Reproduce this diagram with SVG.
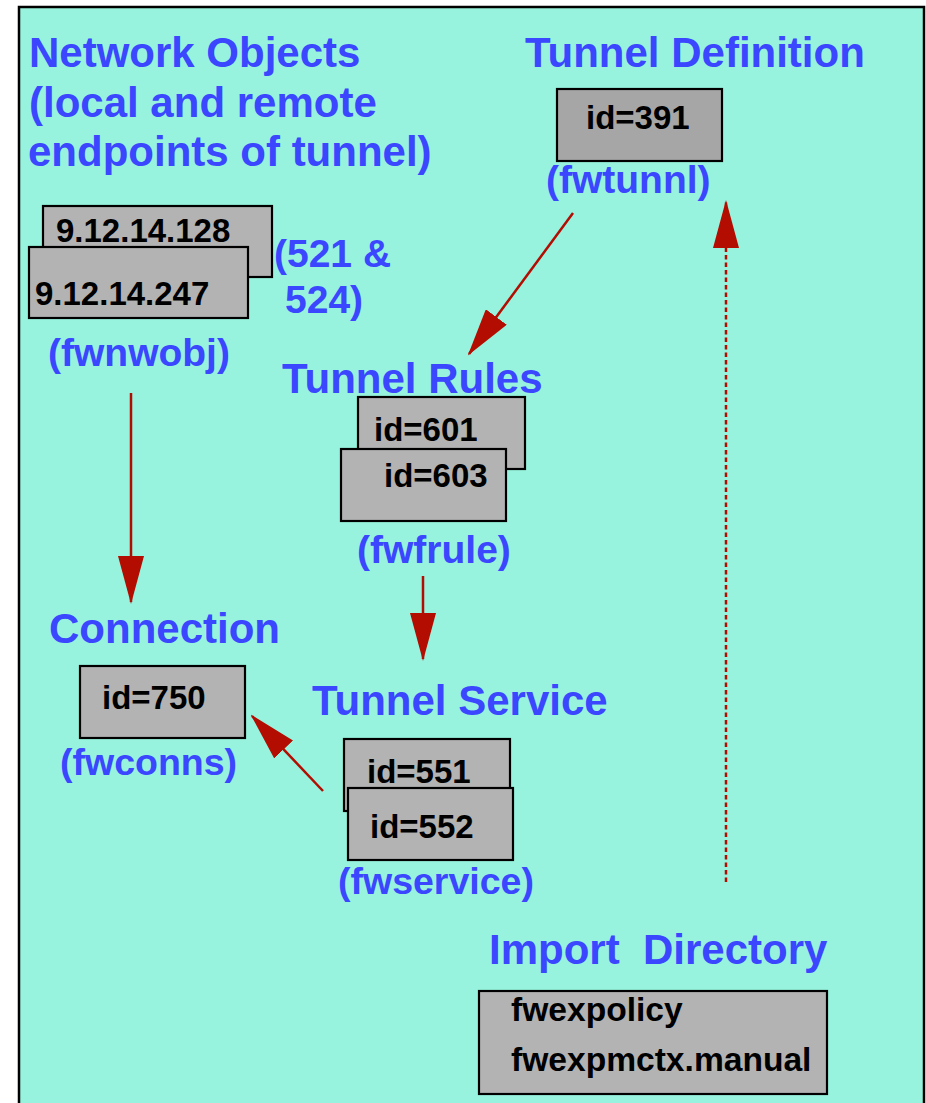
<svg xmlns="http://www.w3.org/2000/svg" width="926" height="1103" viewBox="0 0 926 1103">
  <style>
    .title { font-family: "Liberation Sans", Arial, sans-serif; font-weight: bold; font-size: 42px; fill: #3B46FF; }
    .sub { font-family: "Liberation Sans", Arial, sans-serif; font-weight: bold; font-size: 39px; fill: #3B46FF; }
    .sub.narrow { font-size: 37.5px; }
    .box { fill: #B3B3B3; stroke: #000; stroke-width: 2.2; }
    .box.dark { fill: #A6A6A6; }
    .val { font-family: "Liberation Sans", Arial, sans-serif; font-weight: bold; font-size: 33px; fill: #000; }
    .link { stroke: #B30C00; stroke-width: 2.5; fill: none; marker-end: url(#head); }
    .link.dotted { stroke-dasharray: 4.5 3; }
  </style>
  <defs>
    <marker id="head" markerUnits="userSpaceOnUse" viewBox="0 0 48 26" markerWidth="48" markerHeight="26" refX="46" refY="13" orient="auto">
      <path d="M0,0 L48,13 L0,26 z" fill="#B30C00"/>
    </marker>
  </defs>

  <rect x="0" y="0" width="926" height="1103" fill="#fff"/>
  <rect x="19" y="7" width="905" height="1110" fill="#97F3DD" stroke="#000" stroke-width="2.5"/>

  <g id="network-objects">
    <text class="title" x="29" y="67">Network Objects</text>
    <text class="title" x="29" y="117">(local and remote</text>
    <text class="title" x="28" y="166">endpoints of tunnel)</text>
    <rect class="box" x="43" y="206" width="229" height="71"/>
    <text class="val" x="56" y="242">9.12.14.128</text>
    <rect class="box" x="29" y="247" width="219" height="71"/>
    <text class="val" x="35" y="305">9.12.14.247</text>
    <text class="sub" x="274" y="267">(521 &amp;</text>
    <text class="sub" x="285" y="313">524)</text>
    <text class="sub" x="48" y="366">(fwnwobj)</text>
  </g>

  <g id="tunnel-definition">
    <text class="title" x="525" y="67">Tunnel Definition</text>
    <rect class="box dark" x="557" y="89" width="165" height="72"/>
    <text class="val" x="586" y="129">id=391</text>
    <text class="sub" x="546" y="193">(fwtunnl)</text>
  </g>

  <g id="tunnel-rules">
    <text class="title" x="282" y="393">Tunnel Rules</text>
    <rect class="box" x="358" y="397" width="167" height="72"/>
    <text class="val" x="374" y="441">id=601</text>
    <rect class="box" x="341" y="449" width="165" height="72"/>
    <text class="val" x="384" y="487">id=603</text>
    <text class="sub" x="357" y="563">(fwfrule)</text>
  </g>

  <g id="connection">
    <text class="title" x="49" y="643">Connection</text>
    <rect class="box" x="80" y="666" width="165" height="72"/>
    <text class="val" x="102" y="709">id=750</text>
    <text class="sub narrow" x="60" y="775">(fwconns)</text>
  </g>

  <g id="tunnel-service">
    <text class="title" x="312" y="715">Tunnel Service</text>
    <rect class="box" x="344" y="739" width="166" height="72"/>
    <text class="val" x="367" y="783">id=551</text>
    <rect class="box" x="348" y="788" width="165" height="72"/>
    <text class="val" x="370" y="838">id=552</text>
    <text class="sub narrow" x="338" y="894">(fwservice)</text>
  </g>

  <g id="import-directory">
    <text class="title" x="489" y="964" xml:space="preserve">Import  Directory</text>
    <rect class="box" x="479" y="991" width="348" height="103"/>
    <text class="val" x="511" y="1021" style="font-size:33.6px">fwexpolicy</text>
    <text class="val" x="511" y="1071" style="font-size:33.6px">fwexpmctx.manual</text>
  </g>

  <g id="connectors">
    <line class="link" x1="573" y1="213" x2="469" y2="354"/>
    <line class="link" x1="131" y1="393" x2="131" y2="602"/>
    <line class="link" x1="423" y1="576" x2="423" y2="659"/>
    <line class="link" x1="323" y1="791" x2="252" y2="716"/>
    <line class="link dotted" x1="726" y1="882" x2="726" y2="202"/>
  </g>
</svg>
